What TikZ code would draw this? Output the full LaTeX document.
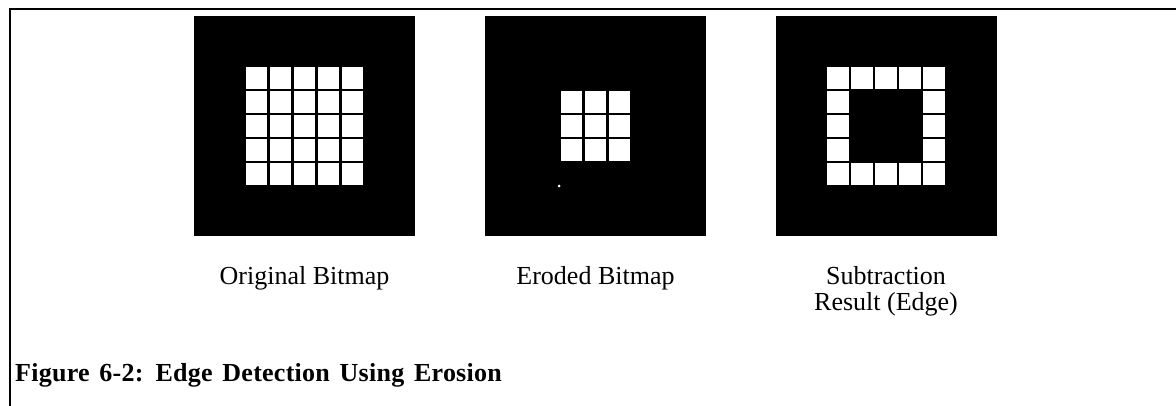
\documentclass[tikz,border=0pt]{standalone}
\usepackage{fontspec}
\setmainfont{Liberation Serif}
\begin{document}
\begin{tikzpicture}[x=1pt,y=-1pt,
  bitmap/.style={fill=black, draw=none, minimum width=221pt, minimum height=220pt, inner sep=0pt},
  pixel/.style={fill=white},
  bmlabel/.style={font=\fontsize{26}{26}\selectfont, align=center, anchor=base, inner sep=0pt},
  figcaption/.style={font=\fontsize{26}{27}\selectfont\bfseries\addfontfeature{LetterSpace=1}, anchor=base west, inner sep=0pt},
  frameline/.style={line width=2pt}]
\useasboundingbox (0,0) rectangle (1176,406);
% frame corner of the figure
\coordinate (fbl) at (9.5,406);
\coordinate (ftl) at (9.5,9);
\coordinate (ftr) at (1176,9);
\draw[frameline] (fbl) -- (ftl) -- (ftr);

% the three bitmaps
\node[bitmap] (orig) at (304.5,126) {};
\node[bitmap] (eroded) at (595.5,126) {};
\node[bitmap] (edge) at (886,126) {};

% original: full 5x5 block
\begin{scope}[shift={(orig.center)}]
  \foreach \i in {0,...,4}
    \foreach \j in {0,...,4}
      \fill[pixel] (-58.75+24*\i,-58.75+24*\j) rectangle ++(21.5,21.5);
\end{scope}

% eroded: inner 3x3 block
\begin{scope}[shift={(eroded.center)}]
  \foreach \i in {0,...,2}
    \foreach \j in {0,...,2}
      \fill[pixel] (-34.75+24*\i,-34.75+24*\j) rectangle ++(21.5,21.5);
  \fill[pixel] (-36.5,60) circle (1.5);
\end{scope}

% difference: outer ring of the 5x5 block
\begin{scope}[shift={(edge.center)}]
  \foreach \i in {0,...,4}
    \foreach \j in {0,4}
      \fill[pixel] (-58.75+24*\i,-58.75+24*\j) rectangle ++(21.5,21.5);
  \foreach \i in {0,4}
    \foreach \j in {1,2,3}
      \fill[pixel] (-58.75+24*\i,-58.75+24*\j) rectangle ++(21.5,21.5);
\end{scope}

% labels under the bitmaps (base anchor sits on the last line)
\node[bmlabel] (origlbl) at (304.5,284) {Original Bitmap};
\node[bmlabel] (erodedlbl) at (595.5,284) {Eroded Bitmap};
\node[bmlabel] (edgelbl) at (886,310) {Subtraction\\Result (Edge)};

% figure caption
\node[figcaption] (caption) at (15,381) {Figure\hspace{3pt} 6-2:\hspace{3pt} Edge\hspace{3pt} Detection\hspace{3pt} Using\hspace{3pt} Erosion};
\end{tikzpicture}
\end{document}
